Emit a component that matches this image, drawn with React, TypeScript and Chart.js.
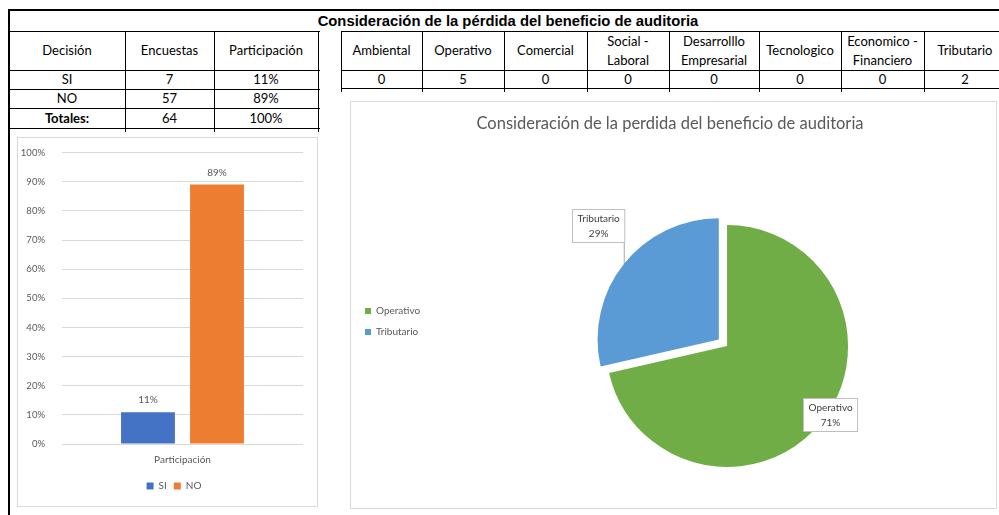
import React, { useEffect, useRef } from "react";
import { Chart, registerables, layouts } from "chart.js";

Chart.register(...registerables);

const FONT = "Lato, 'Open Sans', sans-serif";
const GRAY_TEXT = "#595959";

// ---- Data: left table / bar chart ----
const decisionHeaders = ["Decisión", "Encuestas", "Participación"];
const decisions = ["SI", "NO"];
const encuestas = [7, 57];
const participacionText = ["11%", "89%"];
const totalLabel = "Totales:";
const totalEncuestas = 64;
const totalParticipacion = "100%";

const barCategories = ["Participación"];
const barSeries = ["SI", "NO"];
const barValues = [10.9, 89.1];
const barColors = ["#4472C4", "#ED7D31"];

// ---- Data: right table / pie chart ----
const tableTitle = "Consideración de la pérdida del beneficio de auditoria";
const pieTitle = "Consideración de la perdida del beneficio de auditoria";
const riskHeaders = [
  "Ambiental",
  "Operativo",
  "Comercial",
  "Social -\nLaboral",
  "Desarrolllo\nEmpresarial",
  "Tecnologico",
  "Economico -\nFinanciero",
  "Tributario",
];
const riskCounts = [0, 5, 0, 0, 0, 0, 0, 2];
const riskColors = ["#5B9BD5", "#70AD47", "#A5A5A5", "#FFC000", "#4472C4", "#264478", "#9E480E", "#5B9BD5"];

// pie uses the non-zero categories
const pieIdx = riskCounts.map((v, i) => i).filter((i) => riskCounts[i] > 0);
const pieLabels = pieIdx.map((i) => riskHeaders[i].replace("\n", " "));
const pieValues = pieIdx.map((i) => riskCounts[i]);
const pieColors = pieIdx.map((i) => riskColors[i]);
const isTrib = pieIdx.map((i) => riskHeaders[i] === "Tributario");
const pieOffsets = isTrib.map((t) => (t ? 42 : 0));
const labelDistance = isTrib.map((t) => (t ? 1.377 : 1.02));
const labelAngleShift = isTrib.map((t) => (t ? 4.8 : -5));

const barLabelPlugin = {
  id: "barLabels",
  afterDatasetsDraw(chart: any) {
    const ctx = chart.ctx;
    ctx.save();
    ctx.font = `10px ${FONT}`;
    ctx.fillStyle = GRAY_TEXT;
    ctx.textAlign = "center";
    ctx.textBaseline = "middle";
    chart.data.datasets.forEach((ds: any, di: number) => {
      const meta = chart.getDatasetMeta(di);
      meta.data.forEach((bar: any, j: number) => {
        ctx.fillText(Math.round(ds.data[j]) + "%", bar.x, bar.y - 12);
      });
    });
    ctx.restore();
  },
};

const pieLabelPlugin = {
  id: "pieLabels",
  afterDatasetsDraw(chart: any) {
    const ctx = chart.ctx;
    const meta = chart.getDatasetMeta(0);
    const ds = chart.data.datasets[0];
    const total = ds.data.reduce((a: number, b: number) => a + b, 0);
    ctx.save();
    ctx.font = `10px ${FONT}`;
    meta.data.forEach((arc: any, i: number) => {
      const { x, y, startAngle, endAngle, outerRadius } = arc.getProps(
        ["x", "y", "startAngle", "endAngle", "outerRadius"],
        true
      );
      const mid = (startAngle + endAngle) / 2;
      const shift = (arc.options.offset || 0) / 4;
      const cx = x + Math.cos(mid) * shift;
      const cy = y + Math.sin(mid) * shift;
      const la = mid + (labelAngleShift[i] * Math.PI) / 180;
      const d = labelDistance[i] * outerRadius;
      const lx = cx + Math.cos(la) * d;
      const ly = cy + Math.sin(la) * d;
      const lines = [String(chart.data.labels[i]), Math.round((ds.data[i] / total) * 100) + "%"];
      const w = Math.max(...lines.map((s) => ctx.measureText(s).width)) + 10;
      const h = 33;
      const bx = Math.round(lx - w / 2) + 0.5;
      const by = Math.round(ly - h / 2) + 0.5;
      if (labelDistance[i] > 1.15) {
        const ex = cx + Math.cos(mid) * outerRadius;
        const ey = cy + Math.sin(mid) * outerRadius;
        const tx = Math.min(Math.max(ex, bx), bx + w);
        const ty = Math.min(Math.max(ey, by), by + h);
        ctx.strokeStyle = "#a6a6a6";
        ctx.lineWidth = 1;
        ctx.beginPath();
        ctx.moveTo(ex, ey);
        ctx.lineTo(tx, ty);
        ctx.stroke();
      }
      ctx.fillStyle = "#ffffff";
      ctx.fillRect(bx, by, w, h);
      ctx.strokeStyle = "#bfbfbf";
      ctx.lineWidth = 1;
      ctx.strokeRect(bx, by, w, h);
      ctx.fillStyle = "#404040";
      ctx.textAlign = "center";
      ctx.textBaseline = "middle";
      ctx.fillText(lines[0], bx + w / 2, by + h / 2 - 7.5);
      ctx.fillText(lines[1], bx + w / 2, by + h / 2 + 7.5);
    });
    ctx.restore();
  },
};

// empty layout box (Excel leaves gaps between legend / axes and the plot)
function makeSpacer(id: string, position: string, size: number) {
  return {
    id,
    beforeInit(chart: any) {
      const box: any = {
        position,
        weight: 500,
        fullSize: false,
        options: {},
        left: 0,
        top: 0,
        right: 0,
        bottom: 0,
        width: 0,
        height: 0,
        isHorizontal() {
          return false;
        },
        update(maxWidth: number, maxHeight: number) {
          this.width = size;
          this.height = maxHeight;
        },
        draw() {},
      };
      layouts.addBox(chart, box);
    },
  };
}

function BarChart() {
  const ref = useRef<HTMLCanvasElement>(null);
  useEffect(() => {
    if (!ref.current) return;
    const chart = new Chart(ref.current, {
      type: "bar",
      data: {
        labels: barCategories,
        datasets: barSeries.map((name, i) => ({
          label: name,
          data: [barValues[i]],
          backgroundColor: barColors[i],
          categoryPercentage: 0.573,
          barPercentage: 0.78,
        })),
      },
      options: {
        animation: false,
        responsive: false,
        devicePixelRatio: 1,
        layout: { padding: { top: 14, right: -13, bottom: 5, left: 0 } },
        scales: {
          x: {
            grid: { display: false, drawTicks: false },
            border: { display: false },
            ticks: { padding: 10, color: GRAY_TEXT, font: { size: 10, family: FONT } },
            afterFit: (s: any) => {
              s.height = 30;
            },
          },
          y: {
            min: 0,
            max: 100,
            ticks: {
              stepSize: 10,
              padding: 17,
              color: GRAY_TEXT,
              font: { size: 9.5, family: FONT },
              callback: (v: any) => v + "%",
            },
            grid: { color: "#d9d9d9", drawTicks: false },
            border: { display: false },
            afterFit: (s: any) => {
              s.width = 44;
            },
          },
        },
        plugins: {
          legend: {
            position: "bottom",
            labels: { boxWidth: 7, boxHeight: 7, padding: 7, color: GRAY_TEXT, font: { size: 10, family: FONT } },
          },
          tooltip: { enabled: false },
        },
      },
      plugins: [makeSpacer("rightGap", "right", 27), barLabelPlugin],
    } as any);
    return () => chart.destroy();
  }, []);
  return (
    <canvas
      ref={ref}
      width={299}
      height={376}
      style={{ position: "absolute", left: 0, top: -8, width: 299, height: 376 }}
    />
  );
}

function PieChart() {
  const ref = useRef<HTMLCanvasElement>(null);
  useEffect(() => {
    if (!ref.current) return;
    const chart = new Chart(ref.current, {
      type: "pie",
      data: {
        labels: pieLabels,
        datasets: [
          {
            data: pieValues,
            backgroundColor: pieColors,
            borderWidth: 0,
            offset: pieOffsets,
          },
        ],
      },
      options: {
        animation: false,
        responsive: false,
        devicePixelRatio: 1,
        radius: 121,
        layout: { padding: { top: 0, right: 10, bottom: -33, left: 3 } },
        plugins: {
          title: {
            display: true,
            text: pieTitle,
            color: GRAY_TEXT,
            font: { size: 16.5, family: FONT, weight: "normal" },
            padding: { top: 12.1, bottom: 50.1 },
          },
          legend: {
            position: "left",
            align: "center",
            labels: { boxWidth: 6, boxHeight: 6, padding: 11, color: GRAY_TEXT, font: { size: 10, family: FONT } },
          },
          tooltip: { enabled: false },
        },
      },
      plugins: [makeSpacer("legendGap", "left", 38), pieLabelPlugin],
    } as any);
    return () => chart.destroy();
  }, []);
  return <canvas ref={ref} width={645} height={406} />;
}

function line(x: number, y: number, w: number, h: number, key: string) {
  return <div key={key} style={{ position: "absolute", left: x, top: y, width: w, height: h, background: "#000" }} />;
}

function cell(x1: number, x2: number, y1: number, y2: number, text: string, key: string, bold = false) {
  return (
    <div
      key={key}
      style={{
        position: "absolute",
        left: x1,
        top: y1,
        width: x2 - x1,
        height: y2 - y1,
        display: "flex",
        alignItems: "center",
        justifyContent: "center",
        textAlign: "center",
        fontFamily: FONT,
        fontSize: 13,
        fontWeight: bold ? 700 : 400,
        lineHeight: "19px",
        whiteSpace: "pre",
        color: "#000",
      }}
    >
      {text}
    </div>
  );
}

export default function App() {
  const lx = [9, 125, 214, 318];
  const ly = [31, 70, 89, 108, 128];
  const rx = [341, 422, 504, 587, 669, 759, 841, 924, 1006];
  const ry = [31, 70, 88];

  const els: any[] = [];
  // outer border
  els.push(line(8, 9, 991, 2, "top"));
  els.push(line(8, 9, 2, 506, "left"));
  // left table lines
  ly.forEach((y, i) => els.push(line(9, y, 311, 1, "lh" + i)));
  lx.slice(1).forEach((x, i) => els.push(line(x, 31, 1, 101, "lv" + i)));
  // right table lines
  ry.forEach((y, i) => els.push(line(341, y, 660, 1, "rh" + i)));
  rx.slice(0, 8).forEach((x, i) => els.push(line(x, 31, 1, 61, "rv" + i)));

  // left table text
  decisionHeaders.forEach((h, i) => els.push(cell(lx[i], lx[i + 1], 31, 70, h, "dh" + i)));
  decisions.forEach((d, r) => {
    els.push(cell(lx[0], lx[1], ly[r + 1], ly[r + 2], d, "d" + r));
    els.push(cell(lx[1], lx[2], ly[r + 1], ly[r + 2], String(encuestas[r]), "e" + r));
    els.push(cell(lx[2], lx[3], ly[r + 1], ly[r + 2], participacionText[r], "p" + r));
  });
  els.push(cell(lx[0], lx[1], ly[3], ly[4], totalLabel, "tl", true));
  els.push(cell(lx[1], lx[2], ly[3], ly[4], String(totalEncuestas), "te"));
  els.push(cell(lx[2], lx[3], ly[3], ly[4], totalParticipacion, "tp"));

  // right table text
  riskHeaders.forEach((h, i) => els.push(cell(rx[i], rx[i + 1], 31, 70, h, "rh_" + i)));
  riskCounts.forEach((v, i) => els.push(cell(rx[i], rx[i + 1], 70, 88, String(v), "rc" + i)));

  return (
    <div
      style={{
        position: "absolute",
        left: 0,
        top: 0,
        width: 999,
        height: 515,
        overflow: "hidden",
        background: "#fff",
      }}
    >
      <div
        style={{
          position: "absolute",
          left: 10,
          top: 11,
          width: 996,
          height: 20,
          display: "flex",
          alignItems: "center",
          justifyContent: "center",
          fontFamily: "'Liberation Sans', Arial, sans-serif",
          fontWeight: 700,
          fontSize: 14.8,
          color: "#000",
          whiteSpace: "nowrap",
        }}
      >
        {tableTitle}
      </div>
      {els}
      <div
        style={{
          position: "absolute",
          left: 17,
          top: 137,
          width: 301,
          height: 370,
          boxSizing: "border-box",
          border: "1px solid #d9d9d9",
          background: "#fff",
          overflow: "hidden",
        }}
      >
        <BarChart />
      </div>
      <div
        style={{
          position: "absolute",
          left: 350,
          top: 101,
          width: 647,
          height: 408,
          boxSizing: "border-box",
          border: "1px solid #d9d9d9",
          background: "#fff",
        }}
      >
        <PieChart />
      </div>
    </div>
  );
}
